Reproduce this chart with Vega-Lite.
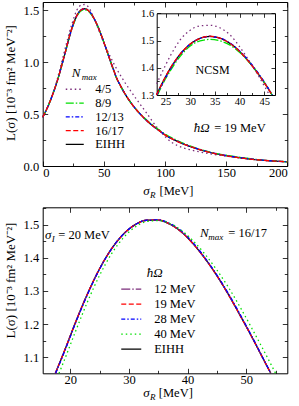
{
"$schema":"https://vega.github.io/schema/vega-lite/v6.json",
"width":299,"height":406,"autosize":{"type":"none"},"padding":0,"background":"white",
"config":{"view":{"stroke":null},"font":"Liberation Serif",
 "axis":{"grid":false,"domainColor":"#000","domainWidth":1,"tickColor":"#000","tickWidth":0.8,"labelColor":"#000","labelFont":"Liberation Serif","labelFontSize":12.5,"titleFont":"Liberation Serif","titleFontWeight":"normal","titleColor":"#000","titleFontSize":13},
 "axisX":{"labelPadding":5.5},
 "axisY":{"labelPadding":9},
 "legend":{"labelFont":"Liberation Serif","labelFontSize":12.5,"labelColor":"#000"},
 "line":{"interpolate":"monotone","strokeWidth":1.3}},
"datasets":{
"top":[
{"s":0,"L":0.470,"n":"EIHH"},{"s":4,"L":0.567,"n":"EIHH"},{"s":8,"L":0.684,"n":"EIHH"},{"s":12,"L":0.823,"n":"EIHH"},{"s":14,"L":0.903,"n":"EIHH"},{"s":16,"L":0.989,"n":"EIHH"},{"s":18,"L":1.075,"n":"EIHH"},{"s":20,"L":1.166,"n":"EIHH"},{"s":22,"L":1.254,"n":"EIHH"},{"s":24,"L":1.332,"n":"EIHH"},{"s":26,"L":1.399,"n":"EIHH"},{"s":28,"L":1.451,"n":"EIHH"},{"s":30,"L":1.487,"n":"EIHH"},{"s":32,"L":1.508,"n":"EIHH"},{"s":34,"L":1.515,"n":"EIHH"},{"s":36,"L":1.509,"n":"EIHH"},{"s":38,"L":1.490,"n":"EIHH"},{"s":40,"L":1.460,"n":"EIHH"},{"s":42,"L":1.420,"n":"EIHH"},{"s":44,"L":1.372,"n":"EIHH"},{"s":46,"L":1.318,"n":"EIHH"},{"s":48,"L":1.257,"n":"EIHH"},{"s":50,"L":1.193,"n":"EIHH"},{"s":52,"L":1.126,"n":"EIHH"},{"s":54,"L":1.057,"n":"EIHH"},{"s":56,"L":0.990,"n":"EIHH"},{"s":58,"L":0.924,"n":"EIHH"},{"s":60,"L":0.860,"n":"EIHH"},{"s":64,"L":0.765,"n":"EIHH"},{"s":68,"L":0.682,"n":"EIHH"},{"s":72,"L":0.612,"n":"EIHH"},{"s":76,"L":0.550,"n":"EIHH"},{"s":80,"L":0.497,"n":"EIHH"},{"s":85,"L":0.438,"n":"EIHH"},{"s":90,"L":0.387,"n":"EIHH"},{"s":95,"L":0.343,"n":"EIHH"},{"s":100,"L":0.300,"n":"EIHH"},{"s":110,"L":0.238,"n":"EIHH"},{"s":120,"L":0.190,"n":"EIHH"},{"s":130,"L":0.152,"n":"EIHH"},{"s":140,"L":0.122,"n":"EIHH"},{"s":150,"L":0.099,"n":"EIHH"},{"s":160,"L":0.081,"n":"EIHH"},{"s":170,"L":0.066,"n":"EIHH"},{"s":180,"L":0.055,"n":"EIHH"},{"s":190,"L":0.047,"n":"EIHH"},{"s":200,"L":0.041,"n":"EIHH"},
{"s":0,"L":0.470,"n":"4/5"},{"s":4,"L":0.565,"n":"4/5"},{"s":8,"L":0.690,"n":"4/5"},{"s":12,"L":0.840,"n":"4/5"},{"s":14,"L":0.930,"n":"4/5"},{"s":16,"L":1.022,"n":"4/5"},{"s":18,"L":1.115,"n":"4/5"},{"s":20,"L":1.205,"n":"4/5"},{"s":22,"L":1.295,"n":"4/5"},{"s":24,"L":1.372,"n":"4/5"},{"s":26,"L":1.445,"n":"4/5"},{"s":28,"L":1.503,"n":"4/5"},{"s":30,"L":1.538,"n":"4/5"},{"s":32,"L":1.554,"n":"4/5"},{"s":34,"L":1.556,"n":"4/5"},{"s":36,"L":1.547,"n":"4/5"},{"s":38,"L":1.522,"n":"4/5"},{"s":40,"L":1.478,"n":"4/5"},{"s":42,"L":1.424,"n":"4/5"},{"s":44,"L":1.366,"n":"4/5"},{"s":46,"L":1.303,"n":"4/5"},{"s":48,"L":1.243,"n":"4/5"},{"s":50,"L":1.186,"n":"4/5"},{"s":52,"L":1.133,"n":"4/5"},{"s":54,"L":1.083,"n":"4/5"},{"s":56,"L":1.036,"n":"4/5"},{"s":58,"L":0.990,"n":"4/5"},{"s":60,"L":0.946,"n":"4/5"},{"s":64,"L":0.865,"n":"4/5"},{"s":68,"L":0.790,"n":"4/5"},{"s":72,"L":0.722,"n":"4/5"},{"s":76,"L":0.655,"n":"4/5"},{"s":80,"L":0.590,"n":"4/5"},{"s":85,"L":0.510,"n":"4/5"},{"s":90,"L":0.425,"n":"4/5"},{"s":95,"L":0.350,"n":"4/5"},{"s":100,"L":0.283,"n":"4/5"},{"s":105,"L":0.232,"n":"4/5"},{"s":110,"L":0.198,"n":"4/5"},{"s":120,"L":0.158,"n":"4/5"},{"s":130,"L":0.132,"n":"4/5"},{"s":140,"L":0.112,"n":"4/5"},{"s":150,"L":0.095,"n":"4/5"},{"s":160,"L":0.080,"n":"4/5"},{"s":170,"L":0.067,"n":"4/5"},{"s":180,"L":0.057,"n":"4/5"},{"s":190,"L":0.048,"n":"4/5"},{"s":200,"L":0.041,"n":"4/5"},
{"s":0,"L":0.470,"n":"8/9"},{"s":4,"L":0.567,"n":"8/9"},{"s":8,"L":0.684,"n":"8/9"},{"s":12,"L":0.822,"n":"8/9"},{"s":14,"L":0.901,"n":"8/9"},{"s":16,"L":0.986,"n":"8/9"},{"s":18,"L":1.071,"n":"8/9"},{"s":20,"L":1.161,"n":"8/9"},{"s":22,"L":1.249,"n":"8/9"},{"s":24,"L":1.325,"n":"8/9"},{"s":26,"L":1.390,"n":"8/9"},{"s":28,"L":1.443,"n":"8/9"},{"s":30,"L":1.480,"n":"8/9"},{"s":32,"L":1.499,"n":"8/9"},{"s":34,"L":1.504,"n":"8/9"},{"s":36,"L":1.499,"n":"8/9"},{"s":38,"L":1.484,"n":"8/9"},{"s":40,"L":1.457,"n":"8/9"},{"s":42,"L":1.420,"n":"8/9"},{"s":44,"L":1.374,"n":"8/9"},{"s":46,"L":1.319,"n":"8/9"},{"s":48,"L":1.257,"n":"8/9"},{"s":50,"L":1.192,"n":"8/9"},{"s":52,"L":1.124,"n":"8/9"},{"s":54,"L":1.055,"n":"8/9"},{"s":56,"L":0.987,"n":"8/9"},{"s":58,"L":0.920,"n":"8/9"},{"s":60,"L":0.856,"n":"8/9"},{"s":64,"L":0.760,"n":"8/9"},{"s":68,"L":0.678,"n":"8/9"},{"s":72,"L":0.609,"n":"8/9"},{"s":76,"L":0.550,"n":"8/9"},{"s":80,"L":0.499,"n":"8/9"},{"s":85,"L":0.443,"n":"8/9"},{"s":90,"L":0.394,"n":"8/9"},{"s":95,"L":0.350,"n":"8/9"},{"s":100,"L":0.309,"n":"8/9"},{"s":110,"L":0.246,"n":"8/9"},{"s":120,"L":0.195,"n":"8/9"},{"s":130,"L":0.156,"n":"8/9"},{"s":140,"L":0.126,"n":"8/9"},{"s":150,"L":0.104,"n":"8/9"},{"s":160,"L":0.086,"n":"8/9"},{"s":170,"L":0.070,"n":"8/9"},{"s":180,"L":0.057,"n":"8/9"},{"s":190,"L":0.048,"n":"8/9"},{"s":200,"L":0.041,"n":"8/9"},
{"s":0,"L":0.470,"n":"12/13"},{"s":4,"L":0.567,"n":"12/13"},{"s":8,"L":0.684,"n":"12/13"},{"s":12,"L":0.823,"n":"12/13"},{"s":14,"L":0.902,"n":"12/13"},{"s":16,"L":0.987,"n":"12/13"},{"s":18,"L":1.072,"n":"12/13"},{"s":20,"L":1.162,"n":"12/13"},{"s":22,"L":1.250,"n":"12/13"},{"s":24,"L":1.328,"n":"12/13"},{"s":26,"L":1.396,"n":"12/13"},{"s":28,"L":1.450,"n":"12/13"},{"s":30,"L":1.487,"n":"12/13"},{"s":32,"L":1.508,"n":"12/13"},{"s":34,"L":1.515,"n":"12/13"},{"s":36,"L":1.510,"n":"12/13"},{"s":38,"L":1.492,"n":"12/13"},{"s":40,"L":1.462,"n":"12/13"},{"s":42,"L":1.423,"n":"12/13"},{"s":44,"L":1.375,"n":"12/13"},{"s":46,"L":1.320,"n":"12/13"},{"s":48,"L":1.258,"n":"12/13"},{"s":50,"L":1.193,"n":"12/13"},{"s":52,"L":1.126,"n":"12/13"},{"s":54,"L":1.057,"n":"12/13"},{"s":56,"L":0.990,"n":"12/13"},{"s":58,"L":0.924,"n":"12/13"},{"s":60,"L":0.860,"n":"12/13"},{"s":64,"L":0.765,"n":"12/13"},{"s":68,"L":0.682,"n":"12/13"},{"s":72,"L":0.612,"n":"12/13"},{"s":76,"L":0.550,"n":"12/13"},{"s":80,"L":0.497,"n":"12/13"},{"s":85,"L":0.438,"n":"12/13"},{"s":90,"L":0.387,"n":"12/13"},{"s":95,"L":0.343,"n":"12/13"},{"s":100,"L":0.301,"n":"12/13"},{"s":110,"L":0.239,"n":"12/13"},{"s":120,"L":0.191,"n":"12/13"},{"s":130,"L":0.153,"n":"12/13"},{"s":140,"L":0.123,"n":"12/13"},{"s":150,"L":0.101,"n":"12/13"},{"s":160,"L":0.083,"n":"12/13"},{"s":170,"L":0.068,"n":"12/13"},{"s":180,"L":0.056,"n":"12/13"},{"s":190,"L":0.047,"n":"12/13"},{"s":200,"L":0.041,"n":"12/13"},
{"s":0,"L":0.470,"n":"16/17"},{"s":4,"L":0.567,"n":"16/17"},{"s":8,"L":0.684,"n":"16/17"},{"s":12,"L":0.823,"n":"16/17"},{"s":14,"L":0.903,"n":"16/17"},{"s":16,"L":0.989,"n":"16/17"},{"s":18,"L":1.075,"n":"16/17"},{"s":20,"L":1.166,"n":"16/17"},{"s":22,"L":1.254,"n":"16/17"},{"s":24,"L":1.332,"n":"16/17"},{"s":26,"L":1.400,"n":"16/17"},{"s":28,"L":1.451,"n":"16/17"},{"s":30,"L":1.487,"n":"16/17"},{"s":32,"L":1.508,"n":"16/17"},{"s":34,"L":1.516,"n":"16/17"},{"s":36,"L":1.509,"n":"16/17"},{"s":38,"L":1.490,"n":"16/17"},{"s":40,"L":1.460,"n":"16/17"},{"s":42,"L":1.420,"n":"16/17"},{"s":44,"L":1.372,"n":"16/17"},{"s":46,"L":1.318,"n":"16/17"},{"s":48,"L":1.257,"n":"16/17"},{"s":50,"L":1.193,"n":"16/17"},{"s":52,"L":1.126,"n":"16/17"},{"s":54,"L":1.057,"n":"16/17"},{"s":56,"L":0.990,"n":"16/17"},{"s":58,"L":0.924,"n":"16/17"},{"s":60,"L":0.860,"n":"16/17"},{"s":64,"L":0.765,"n":"16/17"},{"s":68,"L":0.682,"n":"16/17"},{"s":72,"L":0.612,"n":"16/17"},{"s":76,"L":0.550,"n":"16/17"},{"s":80,"L":0.497,"n":"16/17"},{"s":85,"L":0.438,"n":"16/17"},{"s":90,"L":0.387,"n":"16/17"},{"s":95,"L":0.343,"n":"16/17"},{"s":100,"L":0.300,"n":"16/17"},{"s":110,"L":0.238,"n":"16/17"},{"s":120,"L":0.190,"n":"16/17"},{"s":130,"L":0.152,"n":"16/17"},{"s":140,"L":0.122,"n":"16/17"},{"s":150,"L":0.099,"n":"16/17"},{"s":160,"L":0.081,"n":"16/17"},{"s":170,"L":0.066,"n":"16/17"},{"s":180,"L":0.055,"n":"16/17"},{"s":190,"L":0.047,"n":"16/17"},{"s":200,"L":0.041,"n":"16/17"}
],
"inset":[
{"s":23.16,"L":1.300,"n":"EIHH"},{"s":24,"L":1.332,"n":"EIHH"},{"s":25,"L":1.367,"n":"EIHH"},{"s":26,"L":1.399,"n":"EIHH"},{"s":27,"L":1.426,"n":"EIHH"},{"s":28,"L":1.451,"n":"EIHH"},{"s":29,"L":1.470,"n":"EIHH"},{"s":30,"L":1.487,"n":"EIHH"},{"s":31,"L":1.499,"n":"EIHH"},{"s":32,"L":1.508,"n":"EIHH"},{"s":33,"L":1.513,"n":"EIHH"},{"s":34,"L":1.515,"n":"EIHH"},{"s":35,"L":1.513,"n":"EIHH"},{"s":36,"L":1.509,"n":"EIHH"},{"s":37,"L":1.501,"n":"EIHH"},{"s":38,"L":1.490,"n":"EIHH"},{"s":39,"L":1.477,"n":"EIHH"},{"s":40,"L":1.460,"n":"EIHH"},{"s":41,"L":1.441,"n":"EIHH"},{"s":42,"L":1.420,"n":"EIHH"},{"s":43,"L":1.397,"n":"EIHH"},{"s":44,"L":1.372,"n":"EIHH"},{"s":45,"L":1.346,"n":"EIHH"},{"s":46,"L":1.318,"n":"EIHH"},{"s":46.6,"L":1.300,"n":"EIHH"},
{"s":23.2,"L":1.341,"n":"4/5"},{"s":24,"L":1.372,"n":"4/5"},{"s":26,"L":1.445,"n":"4/5"},{"s":28,"L":1.503,"n":"4/5"},{"s":30,"L":1.538,"n":"4/5"},{"s":32,"L":1.554,"n":"4/5"},{"s":34,"L":1.556,"n":"4/5"},{"s":36,"L":1.547,"n":"4/5"},{"s":38,"L":1.522,"n":"4/5"},{"s":40,"L":1.478,"n":"4/5"},{"s":42,"L":1.424,"n":"4/5"},{"s":44,"L":1.366,"n":"4/5"},{"s":46,"L":1.303,"n":"4/5"},{"s":46.1,"L":1.300,"n":"4/5"},
{"s":23.37,"L":1.300,"n":"8/9"},{"s":24,"L":1.325,"n":"8/9"},{"s":26,"L":1.390,"n":"8/9"},{"s":28,"L":1.443,"n":"8/9"},{"s":30,"L":1.480,"n":"8/9"},{"s":32,"L":1.499,"n":"8/9"},{"s":34,"L":1.504,"n":"8/9"},{"s":36,"L":1.499,"n":"8/9"},{"s":38,"L":1.484,"n":"8/9"},{"s":40,"L":1.457,"n":"8/9"},{"s":42,"L":1.420,"n":"8/9"},{"s":44,"L":1.374,"n":"8/9"},{"s":46,"L":1.319,"n":"8/9"},{"s":46.63,"L":1.300,"n":"8/9"},
{"s":23.25,"L":1.300,"n":"12/13"},{"s":24,"L":1.328,"n":"12/13"},{"s":26,"L":1.396,"n":"12/13"},{"s":28,"L":1.450,"n":"12/13"},{"s":30,"L":1.487,"n":"12/13"},{"s":32,"L":1.508,"n":"12/13"},{"s":34,"L":1.515,"n":"12/13"},{"s":36,"L":1.510,"n":"12/13"},{"s":38,"L":1.492,"n":"12/13"},{"s":40,"L":1.462,"n":"12/13"},{"s":42,"L":1.423,"n":"12/13"},{"s":44,"L":1.375,"n":"12/13"},{"s":46,"L":1.320,"n":"12/13"},{"s":46.66,"L":1.300,"n":"12/13"},
{"s":23.16,"L":1.300,"n":"16/17"},{"s":24,"L":1.332,"n":"16/17"},{"s":26,"L":1.400,"n":"16/17"},{"s":28,"L":1.451,"n":"16/17"},{"s":30,"L":1.487,"n":"16/17"},{"s":32,"L":1.508,"n":"16/17"},{"s":34,"L":1.516,"n":"16/17"},{"s":36,"L":1.509,"n":"16/17"},{"s":38,"L":1.490,"n":"16/17"},{"s":40,"L":1.460,"n":"16/17"},{"s":42,"L":1.420,"n":"16/17"},{"s":44,"L":1.372,"n":"16/17"},{"s":46,"L":1.318,"n":"16/17"},{"s":46.6,"L":1.300,"n":"16/17"}
],
"bottom":[
{"s":17.46,"L":1.052,"h":"EIHH"},{"s":19,"L":1.119,"h":"EIHH"},{"s":21,"L":1.210,"h":"EIHH"},{"s":23,"L":1.294,"h":"EIHH"},{"s":25,"L":1.367,"h":"EIHH"},{"s":27,"L":1.426,"h":"EIHH"},{"s":29,"L":1.470,"h":"EIHH"},{"s":31,"L":1.499,"h":"EIHH"},{"s":33,"L":1.513,"h":"EIHH"},{"s":35,"L":1.513,"h":"EIHH"},{"s":37,"L":1.501,"h":"EIHH"},{"s":39,"L":1.477,"h":"EIHH"},{"s":41,"L":1.441,"h":"EIHH"},{"s":43,"L":1.397,"h":"EIHH"},{"s":45,"L":1.346,"h":"EIHH"},{"s":47,"L":1.288,"h":"EIHH"},{"s":49,"L":1.225,"h":"EIHH"},{"s":51,"L":1.160,"h":"EIHH"},{"s":53,"L":1.092,"h":"EIHH"},{"s":54.18,"L":1.052,"h":"EIHH"},
{"s":17.46,"L":1.052,"h":"12 MeV"},{"s":19,"L":1.119,"h":"12 MeV"},{"s":21,"L":1.210,"h":"12 MeV"},{"s":23,"L":1.294,"h":"12 MeV"},{"s":25,"L":1.367,"h":"12 MeV"},{"s":27,"L":1.426,"h":"12 MeV"},{"s":29,"L":1.470,"h":"12 MeV"},{"s":31,"L":1.499,"h":"12 MeV"},{"s":33,"L":1.513,"h":"12 MeV"},{"s":35,"L":1.513,"h":"12 MeV"},{"s":37,"L":1.501,"h":"12 MeV"},{"s":39,"L":1.477,"h":"12 MeV"},{"s":41,"L":1.441,"h":"12 MeV"},{"s":43,"L":1.397,"h":"12 MeV"},{"s":45,"L":1.346,"h":"12 MeV"},{"s":47,"L":1.288,"h":"12 MeV"},{"s":49,"L":1.225,"h":"12 MeV"},{"s":51,"L":1.160,"h":"12 MeV"},{"s":53,"L":1.092,"h":"12 MeV"},{"s":54.18,"L":1.052,"h":"12 MeV"},
{"s":17.46,"L":1.052,"h":"19 MeV"},{"s":19,"L":1.119,"h":"19 MeV"},{"s":21,"L":1.210,"h":"19 MeV"},{"s":23,"L":1.294,"h":"19 MeV"},{"s":25,"L":1.367,"h":"19 MeV"},{"s":27,"L":1.426,"h":"19 MeV"},{"s":29,"L":1.470,"h":"19 MeV"},{"s":31,"L":1.499,"h":"19 MeV"},{"s":33,"L":1.513,"h":"19 MeV"},{"s":35,"L":1.514,"h":"19 MeV"},{"s":37,"L":1.501,"h":"19 MeV"},{"s":39,"L":1.477,"h":"19 MeV"},{"s":41,"L":1.441,"h":"19 MeV"},{"s":43,"L":1.397,"h":"19 MeV"},{"s":45,"L":1.346,"h":"19 MeV"},{"s":47,"L":1.288,"h":"19 MeV"},{"s":49,"L":1.225,"h":"19 MeV"},{"s":51,"L":1.160,"h":"19 MeV"},{"s":53,"L":1.092,"h":"19 MeV"},{"s":54.18,"L":1.052,"h":"19 MeV"},
{"s":17.5,"L":1.052,"h":"28 MeV"},{"s":19,"L":1.117,"h":"28 MeV"},{"s":21,"L":1.208,"h":"28 MeV"},{"s":23,"L":1.292,"h":"28 MeV"},{"s":25,"L":1.366,"h":"28 MeV"},{"s":27,"L":1.426,"h":"28 MeV"},{"s":29,"L":1.470,"h":"28 MeV"},{"s":31,"L":1.499,"h":"28 MeV"},{"s":33,"L":1.513,"h":"28 MeV"},{"s":35,"L":1.514,"h":"28 MeV"},{"s":37,"L":1.503,"h":"28 MeV"},{"s":39,"L":1.480,"h":"28 MeV"},{"s":41,"L":1.444,"h":"28 MeV"},{"s":43,"L":1.399,"h":"28 MeV"},{"s":45,"L":1.348,"h":"28 MeV"},{"s":47,"L":1.291,"h":"28 MeV"},{"s":49,"L":1.228,"h":"28 MeV"},{"s":51,"L":1.162,"h":"28 MeV"},{"s":53,"L":1.093,"h":"28 MeV"},{"s":54.2,"L":1.052,"h":"28 MeV"},
{"s":18.08,"L":1.052,"h":"40 MeV"},{"s":19,"L":1.092,"h":"40 MeV"},{"s":21,"L":1.183,"h":"40 MeV"},{"s":23,"L":1.270,"h":"40 MeV"},{"s":25,"L":1.347,"h":"40 MeV"},{"s":27,"L":1.411,"h":"40 MeV"},{"s":29,"L":1.459,"h":"40 MeV"},{"s":31,"L":1.492,"h":"40 MeV"},{"s":33,"L":1.509,"h":"40 MeV"},{"s":35,"L":1.512,"h":"40 MeV"},{"s":37,"L":1.503,"h":"40 MeV"},{"s":39,"L":1.482,"h":"40 MeV"},{"s":41,"L":1.450,"h":"40 MeV"},{"s":43,"L":1.410,"h":"40 MeV"},{"s":45,"L":1.363,"h":"40 MeV"},{"s":47,"L":1.310,"h":"40 MeV"},{"s":49,"L":1.250,"h":"40 MeV"},{"s":51,"L":1.186,"h":"40 MeV"},{"s":53,"L":1.120,"h":"40 MeV"},{"s":55,"L":1.052,"h":"40 MeV"}
]
},
"layer":[
{"data":{"name":"top"},"mark":{"type":"point","opacity":0},
 "encoding":{
  "x":{"field":"s","type":"quantitative","scale":{"domain":[0,200],"range":[42.7,287.3],"nice":false,"zero":false},
   "axis":{"orient":"top","offset":-2,"labels":false,"title":null,"values":[0,25,50,75,100,125,150,175,200],"tickSize":{"condition":{"test":"datum.value % 50 === 0","value":-5},"value":-3}}},
  "y":{"field":"L","type":"quantitative","scale":{"domain":[0,1.58],"range":[166,2],"nice":false,"zero":false},
   "axis":{"orient":"right","offset":-11.7,"labels":false,"title":null,"values":[0,0.25,0.5,0.75,1,1.25,1.5],"tickSize":{"condition":{"test":"datum.value % 0.5 === 0","value":-5},"value":-3}}}}},
{"data":{"name":"top"},"mark":{"type":"line","clip":false},
 "encoding":{
  "x":{"field":"s","type":"quantitative","scale":{"domain":[0,200],"range":[42.7,287.3],"nice":false,"zero":false},
   "axis":{"orient":"bottom","offset":-240,"title":null,"values":[0,25,50,75,100,125,150,175,200],"labelExpr":"datum.value % 50 === 0 ? datum.label : ''","tickSize":{"condition":{"test":"datum.value % 50 === 0","value":-5},"value":-3}}},
  "y":{"field":"L","type":"quantitative","scale":{"domain":[0,1.58],"range":[166,2],"nice":false,"zero":false},
   "axis":{"orient":"left","offset":-42.7,"values":[0,0.25,0.5,0.75,1,1.25,1.5],"format":".1f","labelExpr":"datum.value % 0.5 === 0 ? datum.label : ''","tickSize":{"condition":{"test":"datum.value % 0.5 === 0","value":-5},"value":-3},
    "title":"L(σ) [10⁻³ fm² MeV⁻²]","titleX":-32.2,"titleY":82.5,"titleAngle":270,"titleBaseline":"middle","titleAlign":"center"}},
  "color":{"field":"n","type":"nominal","scale":{"domain":["4/5","8/9","12/13","16/17","EIHH"],"range":["#7B2D7B","#00E000","#0000FF","#FF0000","#000000"]},
   "legend":{"orient":"none","legendX":68.5,"legendY":83,"title":null,"symbolType":"M-2,0H2","symbolSize":81,"symbolStrokeWidth":1.5,"labelOffset":14.2,"rowPadding":0.8,"padding":0}},
  "strokeDash":{"field":"n","type":"nominal","scale":{"domain":["4/5","8/9","12/13","16/17","EIHH"],"range":[[1.5,3],[8,2,1.5,2],[4,2,1.5,2],[5,2.5],[1,0]]},
   "legend":{"orient":"none","legendX":68.5,"legendY":83,"title":null,"symbolType":"M-2,0H2","symbolSize":81,"symbolStrokeWidth":1.5,"labelOffset":14.2,"rowPadding":0.8,"padding":0}}}},
{"data":{"name":"inset"},"mark":{"type":"point","opacity":0},
 "encoding":{
  "x":{"field":"s","type":"quantitative","scale":{"domain":[23.2,47.2],"range":[156.7,275],"nice":false,"zero":false},
   "axis":{"orient":"top","offset":-13.3,"labels":false,"title":null,"values":[25,27.5,30,32.5,35,37.5,40,42.5,45],"tickSize":{"condition":{"test":"datum.value % 5 === 0","value":-4},"value":-2.5}}},
  "y":{"field":"L","type":"quantitative","scale":{"domain":[1.3,1.6],"range":[95,13.3],"nice":false,"zero":false},
   "axis":{"orient":"right","offset":-24,"labels":false,"title":null,"values":[1.3,1.35,1.4,1.45,1.5,1.55,1.6],"tickSize":{"condition":{"test":"round(datum.value*100) % 10 === 0","value":-4},"value":-2.5}}}}},
{"data":{"name":"inset"},"mark":{"type":"line","clip":false},
 "encoding":{
  "x":{"field":"s","type":"quantitative","scale":{"domain":[23.2,47.2],"range":[156.7,275],"nice":false,"zero":false},
   "axis":{"orient":"bottom","offset":-311,"title":null,"labelFontSize":10.5,"labelPadding":5,"values":[25,27.5,30,32.5,35,37.5,40,42.5,45],"labelExpr":"datum.value % 5 === 0 ? datum.label : ''","tickSize":{"condition":{"test":"datum.value % 5 === 0","value":-4},"value":-2.5}}},
  "y":{"field":"L","type":"quantitative","scale":{"domain":[1.3,1.6],"range":[95,13.3],"nice":false,"zero":false},
   "axis":{"orient":"left","offset":-156.7,"title":null,"labelFontSize":10.5,"labelPadding":7,"format":".1f","values":[1.3,1.35,1.4,1.45,1.5,1.55,1.6],"labelExpr":"round(datum.value*100) % 10 === 0 ? datum.label : ''","tickSize":{"condition":{"test":"round(datum.value*100) % 10 === 0","value":-4},"value":-2.5}}},
  "color":{"field":"n","type":"nominal","scale":{"domain":["4/5","8/9","12/13","16/17","EIHH"],"range":["#7B2D7B","#00E000","#0000FF","#FF0000","#000000"]},"legend":null},
  "strokeDash":{"field":"n","type":"nominal","scale":{"domain":["4/5","8/9","12/13","16/17","EIHH"],"range":[[1.5,3],[8,2,1.5,2],[4,2,1.5,2],[5,2.5],[1,0]]},"legend":null}}},
{"data":{"name":"bottom"},"mark":{"type":"point","opacity":0},
 "encoding":{
  "x":{"field":"s","type":"quantitative","scale":{"domain":[15.3,57],"range":[42.7,287.3],"nice":false,"zero":false},
   "axis":{"orient":"top","offset":-207.3,"labels":false,"title":null,"values":[20,25,30,35,40,45,50,55],"tickSize":{"condition":{"test":"datum.value % 10 === 0","value":-5},"value":-3}}},
  "y":{"field":"L","type":"quantitative","scale":{"domain":[1.052,1.552],"range":[373.3,207.3],"nice":false,"zero":false},
   "axis":{"orient":"right","offset":-11.7,"labels":false,"title":null,"values":[1.1,1.15,1.2,1.25,1.3,1.35,1.4,1.45,1.5,1.55],"tickSize":{"condition":{"test":"round(datum.value*100) % 10 === 0","value":-5},"value":-3}}}}},
{"data":{"name":"bottom"},"mark":{"type":"line","clip":false},
 "encoding":{
  "x":{"field":"s","type":"quantitative","scale":{"domain":[15.3,57],"range":[42.7,287.3],"nice":false,"zero":false},
   "axis":{"orient":"bottom","offset":-32.7,"title":null,"values":[20,25,30,35,40,45,50,55],"labelExpr":"datum.value % 10 === 0 ? datum.label : ''","tickSize":{"condition":{"test":"datum.value % 10 === 0","value":-5},"value":-3}}},
  "y":{"field":"L","type":"quantitative","scale":{"domain":[1.052,1.552],"range":[373.3,207.3],"nice":false,"zero":false},
   "axis":{"orient":"left","offset":-42.7,"format":".1f","values":[1.1,1.15,1.2,1.25,1.3,1.35,1.4,1.45,1.5,1.55],"labelExpr":"round(datum.value*100) % 10 === 0 ? datum.label : ''","tickSize":{"condition":{"test":"round(datum.value*100) % 10 === 0","value":-5},"value":-3},
    "title":"L(σ) [10⁻³ fm² MeV⁻²]","titleX":-32.2,"titleY":280,"titleAngle":270,"titleBaseline":"middle","titleAlign":"center"}},
  "color":{"field":"h","type":"nominal","scale":{"domain":["12 MeV","19 MeV","28 MeV","40 MeV","EIHH"],"range":["#7B2D7B","#FF0000","#0000FF","#00E000","#000000"]},
   "legend":{"orient":"none","legendX":125,"legendY":282.8,"title":null,"symbolType":"M-2,0H2","symbolSize":100,"symbolStrokeWidth":1.5,"labelOffset":16.7,"rowPadding":2,"padding":0}},
  "strokeDash":{"field":"h","type":"nominal","scale":{"domain":["12 MeV","19 MeV","28 MeV","40 MeV","EIHH"],"range":[[9,2,1.5,2],[5,2.5],[4,2,1.5,2],[1.5,3],[1,0]]},
   "legend":{"orient":"none","legendX":125,"legendY":282.8,"title":null,"symbolType":"M-2,0H2","symbolSize":100,"symbolStrokeWidth":1.5,"labelOffset":16.7,"rowPadding":2,"padding":0}}}},
{"data":{"values":[{"t":"ħΩ","s":123.5,"L":0.363,"k":"main"},{"t":"N","s":23.7,"L":0.893,"k":"main"},{"t":"max","s":31.9,"L":0.857,"k":"sub"},{"t":"σ","s":82.3,"L":-0.241,"k":"main"},{"t":"R","s":87.8,"L":-0.275,"k":"sub"}]},
 "mark":{"type":"text","align":"left","baseline":"middle","fontStyle":"italic","font":"Liberation Serif","color":"#000"},
 "encoding":{
  "x":{"field":"s","type":"quantitative","scale":{"domain":[0,200],"range":[42.7,287.3],"nice":false,"zero":false},"axis":null},
  "y":{"field":"L","type":"quantitative","scale":{"domain":[0,1.58],"range":[166,2],"nice":false,"zero":false},"axis":null},
  "text":{"field":"t"},
  "size":{"field":"k","type":"nominal","scale":{"domain":["main","sub"],"range":[13,9]},"legend":null}}},
{"data":{"values":[{"t":"= 19 MeV","s":140.2,"L":0.363},{"t":"[MeV]","s":95.5,"L":-0.241}]},
 "mark":{"type":"text","align":"left","baseline":"middle","font":"Liberation Serif","fontSize":12.5,"color":"#000"},
 "encoding":{
  "x":{"field":"s","type":"quantitative","scale":{"domain":[0,200],"range":[42.7,287.3],"nice":false,"zero":false},"axis":null},
  "y":{"field":"L","type":"quantitative","scale":{"domain":[0,1.58],"range":[166,2],"nice":false,"zero":false},"axis":null},
  "text":{"field":"t"}}},
{"data":{"values":[{"t":"NCSM","s":34.53,"L":1.392}]},
 "mark":{"type":"text","align":"center","baseline":"middle","font":"Liberation Serif","fontSize":12,"color":"#000"},
 "encoding":{
  "x":{"field":"s","type":"quantitative","scale":{"domain":[23.2,47.2],"range":[156.7,275],"nice":false,"zero":false},"axis":null},
  "y":{"field":"L","type":"quantitative","scale":{"domain":[1.3,1.6],"range":[95,13.3],"nice":false,"zero":false},"axis":null},
  "text":{"field":"t"}}},
{"data":{"values":[{"t":"σ","s":15.69,"L":1.4686,"k":"main"},{"t":"I","s":16.83,"L":1.458,"k":"sub"},{"t":"N","s":42.12,"L":1.4737,"k":"main"},{"t":"max","s":43.53,"L":1.4625,"k":"sub"},{"t":"ħΩ","s":33.03,"L":1.354,"k":"main"},{"t":"σ","s":32.45,"L":0.9927,"k":"main"},{"t":"R","s":33.59,"L":0.9821,"k":"sub"}]},
 "mark":{"type":"text","align":"left","baseline":"middle","fontStyle":"italic","font":"Liberation Serif","color":"#000"},
 "encoding":{
  "x":{"field":"s","type":"quantitative","scale":{"domain":[15.3,57],"range":[42.7,287.3],"nice":false,"zero":false},"axis":null},
  "y":{"field":"L","type":"quantitative","scale":{"domain":[1.052,1.552],"range":[373.3,207.3],"nice":false,"zero":false},"axis":null},
  "text":{"field":"t"},
  "size":{"field":"k","type":"nominal","scale":{"domain":["main","sub"],"range":[13,9]},"legend":null}}},
{"data":{"values":[{"t":"= 20 MeV","s":17.96,"L":1.4686},{"t":"= 16/17","s":46.94,"L":1.4737},{"t":"[MeV]","s":35.1,"L":0.9927}]},
 "mark":{"type":"text","align":"left","baseline":"middle","font":"Liberation Serif","fontSize":12.5,"color":"#000"},
 "encoding":{
  "x":{"field":"s","type":"quantitative","scale":{"domain":[15.3,57],"range":[42.7,287.3],"nice":false,"zero":false},"axis":null},
  "y":{"field":"L","type":"quantitative","scale":{"domain":[1.052,1.552],"range":[373.3,207.3],"nice":false,"zero":false},"axis":null},
  "text":{"field":"t"}}}
],
"resolve":{"scale":{"x":"independent","y":"independent","color":"independent","strokeDash":"independent","size":"independent"},"axis":{"x":"independent","y":"independent"},"legend":{"color":"independent","strokeDash":"independent","size":"independent"}}
}
